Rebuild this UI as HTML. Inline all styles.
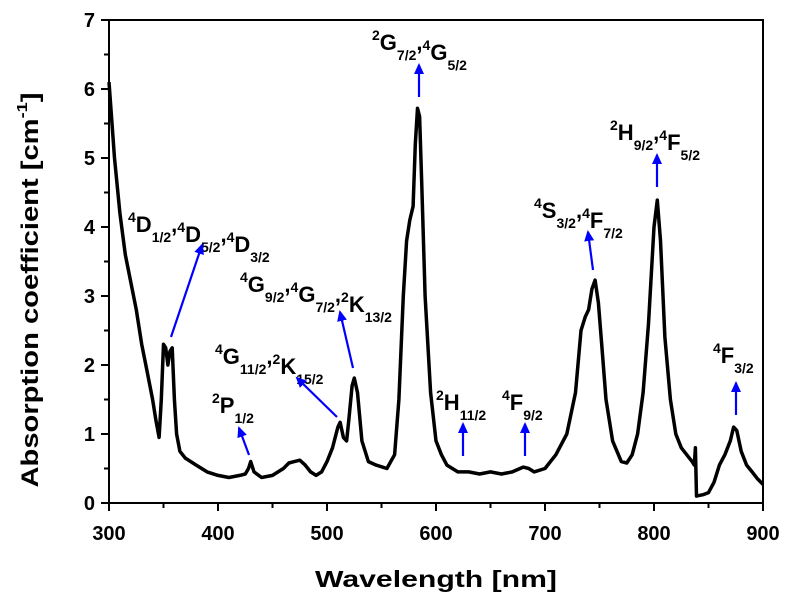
<!DOCTYPE html>
<html><head><meta charset="utf-8">
<style>
html,body{margin:0;padding:0;background:#fff;}
svg{display:block;font-family:"Liberation Sans",Arial,sans-serif;font-weight:bold;}
</style></head>
<body>
<svg id="chart" width="791" height="603" viewBox="0 0 791 603" xmlns="http://www.w3.org/2000/svg">
<defs>
<marker id="ah" markerWidth="11" markerHeight="11" refX="9" refY="5.5" orient="auto" markerUnits="userSpaceOnUse">
<path d="M0,0.5 L11,5.5 L0,10.5 Z" fill="#0000ff"/>
</marker>
</defs>
<g id="axes"></g>
<g id="series"></g>
<g id="annots"></g>
<text x="436" y="587" font-size="23" text-anchor="middle" textLength="242" lengthAdjust="spacingAndGlyphs">Wavelength [nm]</text>
<text transform="translate(38,290) rotate(-90)" font-size="24" text-anchor="middle" textLength="395" lengthAdjust="spacingAndGlyphs">Absorption coefficient [cm<tspan font-size="15" dy="-11">-1</tspan><tspan dy="11">]</tspan></text>
</svg>
<script>
const wavelengths = [300,305,310,315,320,325,330,335,340,343,346,348,350,352,354,356,358,360,362,365,370,380,390,400,410,420,425,428,430,433,440,450,460,465,470,475,480,485,490,495,500,505,510,512,515,518,520,523,525,528,532,538,545,555,562,566,570,573,576,579,581,583,585,587,590,595,600,605,610,620,630,640,650,660,670,680,685,690,700,710,720,728,733,737,740,743,746,749,752,756,762,770,775,780,785,790,795,800,803,806,810,815,820,825,830,835,837,838,839,845,850,855,860,865,870,873,876,880,885,890,895,900];
const absorption = [6.1,5.0,4.2,3.6,3.2,2.8,2.3,1.9,1.5,1.2,0.95,1.5,2.3,2.25,2.0,2.2,2.25,1.5,1.0,0.75,0.65,0.55,0.45,0.4,0.37,0.4,0.42,0.5,0.6,0.45,0.37,0.4,0.5,0.58,0.6,0.62,0.55,0.45,0.4,0.45,0.6,0.8,1.1,1.17,0.95,0.9,1.2,1.7,1.81,1.6,0.9,0.6,0.55,0.5,0.7,1.5,3.0,3.8,4.1,4.3,5.2,5.72,5.6,4.6,3.0,1.6,0.9,0.7,0.55,0.45,0.45,0.42,0.45,0.42,0.45,0.52,0.5,0.45,0.5,0.7,1.0,1.6,2.5,2.7,2.8,3.1,3.23,2.9,2.3,1.5,0.9,0.6,0.58,0.7,1.0,1.6,2.6,4.0,4.39,3.8,2.4,1.5,1.0,0.8,0.7,0.6,0.55,0.8,0.1,0.12,0.15,0.3,0.55,0.7,0.9,1.1,1.05,0.75,0.55,0.45,0.35,0.27];
const xTicks = [300,400,500,600,700,800,900];
const yTicks = [0,1,2,3,4,5,6,7];

const X0=109,X1=763,Y0=503,Y1=20;
const xs = v => X0 + (v-300)/(900-300)*(X1-X0);
const ys = v => Y0 - v/7*(Y0-Y1);
const NS="http://www.w3.org/2000/svg";
function mk(tag, attrs, parent){const e=document.createElementNS(NS,tag);for(const k in attrs)e.setAttribute(k,attrs[k]);parent.appendChild(e);return e;}

const axes=document.getElementById('axes');
const frame=mk('rect',{x:X0,y:Y1,width:X1-X0,height:Y0-Y1,fill:'none',stroke:'#000','stroke-width':2},axes);


for(let v=300;v<=900;v+=50){
  const major = v%100===0;
  const t=mk('line',{x1:xs(v),x2:xs(v),y1:Y0,y2:Y0+(major?8:5),stroke:'#000','stroke-width':2},axes);
  
  
}
xTicks.forEach(v=>{
  const t=mk('text',{x:xs(v),y:540,'font-size':20,'text-anchor':'middle'},axes);
  t.textContent=v;
  
  
});
for(let v=0;v<=7;v+=0.5){
  const major = Number.isInteger(v);
  const t=mk('line',{x1:X0-(major?8:5),x2:X0,y1:ys(v),y2:ys(v),stroke:'#000','stroke-width':2},axes);
  
  
}
yTicks.forEach(v=>{
  const t=mk('text',{x:X0-14,y:ys(v)+7,'font-size':20,'text-anchor':'end'},axes);
  t.textContent=v;
  
  
});

const series=document.getElementById('series');
let d='';
wavelengths.forEach((w,i)=>{d+=(i?'L':'M')+xs(w).toFixed(1)+','+ys(absorption[i]).toFixed(1);});
const line=mk('path',{d:d,fill:'none',stroke:'#000','stroke-width':3.5,'stroke-linejoin':'round'},series);



const annots=document.getElementById('annots');
const labels=[
 {x:128,y:232,parts:[['4','D','1/2'],['4','D','5/2'],['4','D','3/2']],a:[171,337,202,245],n:'label-4d'},
 {x:240,y:292,parts:[['4','G','9/2'],['4','G','7/2'],['2','K','13/2']],a:[353,368,340,312],n:'label-4g9'},
 {x:215,y:364,parts:[['4','G','11/2'],['2','K','15/2']],a:[337,417,297,378],n:'label-4g11'},
 {x:212,y:413,parts:[['2','P','1/2']],a:[249,455,239,428],n:'label-2p'},
 {x:372,y:50,parts:[['2','G','7/2'],['4','G','5/2']],a:[419,97,419,65],n:'label-2g'},
 {x:436,y:410,parts:[['2','H','11/2']],a:[463,456,463,424],n:'label-2h11'},
 {x:502,y:410,parts:[['4','F','9/2']],a:[525,456,525,424],n:'label-4f9'},
 {x:534,y:218,parts:[['4','S','3/2'],['4','F','7/2']],a:[593,270,588,232],n:'label-4s'},
 {x:610,y:140,parts:[['2','H','9/2'],['4','F','5/2']],a:[657,187,657,155],n:'label-2h9'},
 {x:713,y:363,parts:[['4','F','3/2']],a:[736,415,736,383],n:'label-4f3'}
];
labels.forEach(L=>{
  const t=mk('text',{x:L.x,y:L.y,'font-size':22},annots);
  
  
  L.parts.forEach((p,i)=>{
    if(i>0){const c=mk('tspan',{'font-size':22,dy:-10},t);c.textContent=',';}
    const s=mk('tspan',{'font-size':14,dy:(i>0?0:-10)},t);s.textContent=p[0];
    const m=mk('tspan',{'font-size':22,dy:10},t);m.textContent=p[1];
    const b=mk('tspan',{'font-size':14,dy:10},t);b.textContent=p[2];
  });
  const ar=mk('line',{x1:L.a[0],y1:L.a[1],x2:L.a[2],y2:L.a[3],stroke:'#0000ff','stroke-width':2.2,'marker-end':'url(#ah)'},annots);
  
  
});
</script>
</body></html>
